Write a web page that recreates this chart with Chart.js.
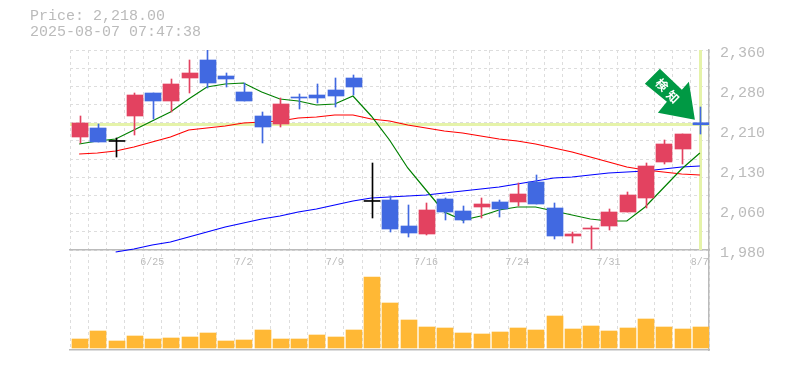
<!DOCTYPE html>
<html lang="en">

<head>
  <meta charset="UTF-8">
  <title>Price chart</title>
  <script src="https://cdn.jsdelivr.net/npm/chart.js"></script>
  <style>
    body { margin: 0; background: #fff; }
    #wrap { position: relative; width: 785px; height: 370px; }
    #info {
      position: absolute; left: 30px; top: 9px;
      font: 15px/16px "Liberation Mono", monospace; color: #bbb; white-space: pre;
    }
  </style>
</head>

<body>
  <div id="wrap">
    <div id="info">Price: 2,218.00
2025-08-07 07:47:38</div>
    <canvas id="myChart" width="785" height="370"></canvas>
  </div>

  <script>
    const dates = ['6/19', '6/20', '6/23', '6/24', '6/25', '6/26', '6/27', '6/30', '7/1', '7/2', '7/3', '7/4', '7/7', '7/8', '7/9', '7/10', '7/11', '7/14', '7/15', '7/16', '7/17', '7/18', '7/22', '7/23', '7/24', '7/25', '7/28', '7/29', '7/30', '7/31', '8/1', '8/4', '8/5', '8/6', '8/7']
    const opens = [2194.7, 2211.8, 2186.2, 2234.6, 2278.3, 2263.1, 2306.8, 2341, 2310.6, 2280.2, 2234.6, 2219.4, 2270.7, 2274.5, 2284, 2306.8, 2072.2, 2075, 2025.6, 2010.4, 2076.9, 2054.1, 2061.7, 2071.2, 2071.2, 2109.2, 2059.8, 2006.6, 2019.9, 2025.6, 2052.2, 2078.8, 2147.2, 2171.9, 2221.8]
    const highs = [2234.6, 2219.4, 2192.8, 2278.3, 2278.3, 2304.9, 2341, 2360, 2316.3, 2297.3, 2242.2, 2268.8, 2276.4, 2295.4, 2306.8, 2312.5, 2145.3, 2082.6, 2065.5, 2069.3, 2078.8, 2063.6, 2078.8, 2075, 2107.3, 2122.5, 2069.3, 2014.2, 2025.6, 2057.9, 2090.2, 2145.3, 2189, 2200.4, 2251.7]
    const lows = [2183.3, 2185.2, 2156.7, 2198.5, 2228.9, 2242.2, 2278.3, 2287.8, 2289.7, 2263.1, 2183.3, 2213.7, 2247.9, 2259.3, 2251.7, 2274.5, 2040.8, 2014.2, 2004.7, 2008.5, 2037, 2031.3, 2040.8, 2042.7, 2063.6, 2067.4, 2000.9, 1993.3, 1981.9, 2018, 2052.2, 2059.8, 2143.4, 2143.4, 2200.4]
    const closes = [2221.3, 2185.2, 2186.2, 2274.5, 2263.1, 2295.4, 2316.3, 2297.3, 2304.9, 2263.1, 2213.7, 2257.4, 2268.8, 2268.8, 2272.6, 2289.7, 2072.2, 2019.9, 2012.3, 2056, 2052.2, 2037, 2067.4, 2057.9, 2086.4, 2067.4, 2006.6, 2010.4, 2021.8, 2052.2, 2084.5, 2139.6, 2181.4, 2200.4, 2218]
    const maShort = [2181.4, 2187.1, 2190.9, 2208, 2225.1, 2242.2, 2266.9, 2289.7, 2295.4, 2297.3, 2280.2, 2266.9, 2263.1, 2255.5, 2257.4, 2272.6, 2234.6, 2189, 2135.8, 2094, 2052.2, 2037, 2044.6, 2056, 2061.7, 2061.7, 2054.1, 2046.5, 2038.9, 2035.1, 2035.1, 2061.7, 2097.8, 2133.9, 2164.3]
    const maMid = [2162.4, 2164.3, 2168.1, 2175.7, 2185.2, 2194.7, 2208, 2211.8, 2215.6, 2221.3, 2223.2, 2225.1, 2230.8, 2232.7, 2236.5, 2236.5, 2228.9, 2225.1, 2217.5, 2211.8, 2206.1, 2202.3, 2196.6, 2190.9, 2187.1, 2181.4, 2173.8, 2166.2, 2156.7, 2147.2, 2137.7, 2132, 2128.2, 2124.4, 2122.5]
    const maLong = [null, null, 1976.2, 1981.9, 1989.5, 1995.2, 2004.7, 2014.2, 2023.7, 2031.3, 2038.9, 2044.6, 2052.2, 2057.9, 2065.5, 2073.1, 2078.8, 2080.7, 2082.6, 2084.5, 2088.3, 2092.1, 2095.9, 2099.7, 2105.4, 2111.1, 2116.8, 2118.7, 2122.5, 2126.3, 2128.2, 2130.1, 2133.9, 2137.7, 2139.6]
    const volumes = [90, 170, 70, 120, 90, 100, 110, 150, 70, 80, 180, 90, 90, 130, 110, 180, 710, 450, 280, 210, 200, 150, 140, 160, 200, 180, 320, 190, 220, 170, 200, 290, 210, 190, 210]
    const priceTicks = [2360, 2284, 2208, 2132, 2056, 1980]
    const priceLabels = ['2,360', '2,280', '2,210', '2,130', '2,060', '1,980']
    const gridLines = 11
    const currentPrice = 2218
    const arrowText = ['検', '知']

    const UP = '#e34260', DOWN = '#4169e1', FLAT = '#000000'
    const candleColors = closes.map((c, i) => c > opens[i] ? UP : c < opens[i] ? DOWN : FLAT)

    // snap bars to whole pixels, the original chart is not antialiased
    const snapBars = {
      id: 'snapBars',
      afterDatasetsUpdate(chart) {
        chart.data.datasets.forEach((ds, i) => {
          if (ds.type !== 'bar') return
          chart.getDatasetMeta(i).data.forEach(el => {
            el.x = ds.barThickness === 1 ? Math.floor(el.x + 0.9) + 0.5 : Math.round(el.x + 0.9)
          })
        })
      }
    }

    // pale cross on the latest price, behind everything else
    const priceCross = {
      id: 'priceCross',
      beforeDatasetsDraw(chart) {
        const { ctx, chartArea, scales } = chart
        const px = Math.round(scales.x.getPixelForValue(dates.length - 1))
        const py = scales.y.getPixelForValue(currentPrice)
        ctx.save()
        ctx.fillStyle = '#e5f3a9'
        ctx.fillRect(chartArea.left, Math.round(py) - 2, chartArea.width, 3)
        ctx.fillRect(px - 1, scales.y.top, 3, scales.y.height)
        ctx.restore()
      }
    }

    // green signal arrow pointing at the latest candle
    const signalArrow = {
      id: 'signalArrow',
      afterDatasetsDraw(chart) {
        const { ctx, scales } = chart
        const tipX = scales.x.getPixelForValue(dates.length - 1) - 5
        const tipY = scales.y.getPixelForValue(currentPrice) - 5
        const shape = [[0, 0], [-37, -7], [-28, -18], [-50, -36], [-35, -51], [-13, -30], [-6, -38]]
        ctx.save()
        ctx.translate(tipX, tipY)
        ctx.fillStyle = '#009944'
        ctx.beginPath()
        shape.forEach(p => ctx.lineTo(p[0], p[1]))
        ctx.closePath()
        ctx.fill()
        ctx.fillStyle = '#fff'
        ctx.font = 'bold 12px "Noto Sans CJK JP"'
        ctx.textAlign = 'center'
        ctx.textBaseline = 'middle'
        arrowText.forEach((t, i) => {
          ctx.save()
          ctx.translate(-33 + i * 11, -35 + i * 12)
          ctx.rotate(Math.PI / 4)
          ctx.fillText(t, 0, 0)
          ctx.restore()
        })
        ctx.restore()
      }
    }

    new Chart(document.getElementById('myChart'), {
      data: {
        labels: dates,
        datasets: [
          { type: 'bar', data: closes.map((c, i) => [opens[i], c]), backgroundColor: candleColors, barThickness: 16, minBarLength: 1, grouped: false, yAxisID: 'y', order: 0 },
          { type: 'bar', data: highs.map((h, i) => [lows[i], h]), backgroundColor: candleColors, barThickness: 1, grouped: false, yAxisID: 'y', order: 1 },
          { type: 'line', data: maShort, borderColor: '#008000', borderWidth: 1.2, pointRadius: 0, yAxisID: 'y', order: 2 },
          { type: 'line', data: maMid, borderColor: '#ff0000', borderWidth: 1.2, pointRadius: 0, yAxisID: 'y', order: 3 },
          { type: 'line', data: maLong, borderColor: '#0000ff', borderWidth: 1.2, pointRadius: 0, clip: false, yAxisID: 'y', order: 4 },
          { type: 'bar', data: volumes, backgroundColor: '#ffb835', barThickness: 16, grouped: false, yAxisID: 'yVol', order: 5 }
        ]
      },
      options: {
        responsive: false,
        animation: false,
        layout: { padding: { left: 70, top: 50, bottom: 20, right: 0 } },
        plugins: { legend: { display: false }, tooltip: { enabled: false } },
        scales: {
          x: {
            type: 'category',
            position: { y: 1980 },
            offset: true,
            grid: { offset: true, color: '#dddddd', drawTicks: false },
            border: { color: '#bbbbbb', width: 1.5, dash: [3, 3] },
            ticks: {
              autoSkip: false, maxRotation: 0, padding: 6, color: '#bbbbbb',
              font: { family: '"Liberation Mono"', size: 10 },
              callback: (v, i) => i % 5 === 4 ? dates[i] : ''
            }
          },
          xBottom: {
            type: 'category',
            position: 'bottom',
            grid: { display: false },
            border: { color: '#bbbbbb', width: 1.5 },
            afterFit(scale) { scale.height = 0 },
            ticks: { display: false }
          },
          y: {
            position: 'right',
            stack: 'panels',
            stackWeight: 2,
            min: 1980,
            max: 2360,
            grid: {
              drawTicks: false,
              color: ctx => priceTicks.includes(ctx.tick.value) && ctx.tick.value !== 2360 && ctx.tick.value !== 1980 ? 'transparent' : '#dddddd'
            },
            border: { color: '#bbbbbb', width: 1.5, dash: [3, 3] },
            afterBuildTicks(scale) {
              const ticks = priceTicks.map(value => ({ value }))
              for (let i = 1; i < gridLines; i++) ticks.push({ value: 1980 + i * 380 / gridLines })
              scale.ticks = ticks
            },
            afterFit(scale) { scale.width = 76 },
            ticks: {
              autoSkip: false, padding: 11, labelOffset: 3, color: '#bbbbbb',
              font: { family: '"Liberation Mono"', size: 15 },
              callback: value => {
                const i = priceTicks.indexOf(value)
                return i < 0 ? '' : priceLabels[i]
              }
            }
          },
          yVol: {
            position: 'right',
            stack: 'panels',
            stackWeight: 1,
            min: -20,
            max: 980,
            grid: { display: false },
            border: { color: '#bbbbbb', width: 1.5 },
            afterFit(scale) { scale.width = 76 },
            ticks: { display: false }
          }
        }
      },
      plugins: [snapBars, priceCross, signalArrow]
    })
  </script>
</body>

</html>
